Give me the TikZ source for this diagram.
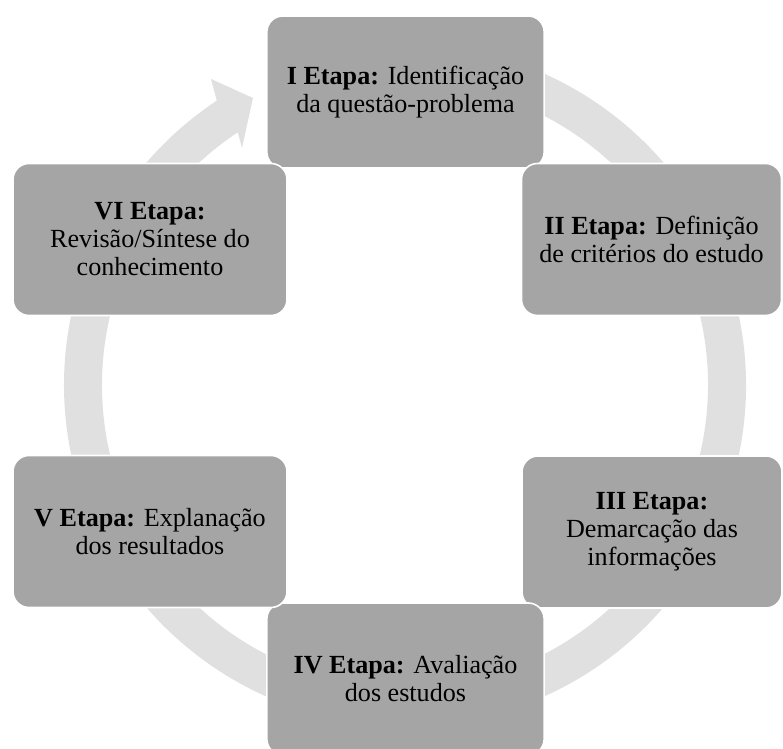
\documentclass[tikz,border=0pt]{standalone}
\usepackage{fontspec}
\setmainfont{Liberation Serif}
\usetikzlibrary{positioning}
\definecolor{caixacinza}{HTML}{A5A5A5}
\definecolor{anelcinza}{HTML}{E0E0E0}

\begin{document}
\begin{tikzpicture}[x=0.75pt,y=0.75pt,
    etapa/.style={draw=white, line width=1.2pt, fill=caixacinza, rounded corners=12pt,
        minimum height=114pt, inner sep=0pt, align=center,
        font=\fontsize{19.6}{21}\selectfont},
    anel/.style={fill=anelcinza}]
  \useasboundingbox (0,0) rectangle (783,749);
  % anel com seta
  \fill[anel] ([shift={(405,364)}]100:341) arc[start angle=100, end angle=-236.5, radius=341]
      -- (211,670) -- (253,651) -- (242,601)
      -- ([shift={(405,364)}]-236.5:303) arc[start angle=-236.5, end angle=100, radius=303] -- cycle;
  % etapas
  \node[etapa, minimum width=208pt] (etapaI) at (405.5,657) {\textbf{I Etapa:} Identificação\\da questão-problema};
  \node[etapa, minimum width=195pt] (etapaII) at (651.5,509.5) {\textbf{II Etapa:} Definição\\de critérios do estudo};
  \node[etapa, minimum width=195pt] (etapaIII) at (652,217) {\textbf{III Etapa:}\\Demarcação das\\informações};
  \node[etapa, minimum width=208pt] (etapaIV) at (405.5,70) {\textbf{IV Etapa:} Avaliação\\dos estudos};
  \node[etapa, minimum width=205.5pt] (etapaV) at (150,217.5) {\textbf{V Etapa:} Explanação\\dos resultados};
  \node[etapa, minimum width=205.5pt] (etapaVI) at (150,509.5) {\textbf{VI Etapa:}\\Revisão/Síntese do\\conhecimento};
\end{tikzpicture}
\end{document}
